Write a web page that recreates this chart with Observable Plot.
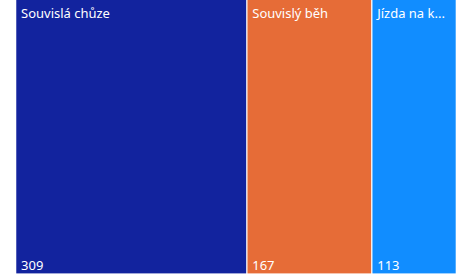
<!DOCTYPE html>
<html>
<head>
<meta charset="utf-8">
<script src="https://cdn.jsdelivr.net/npm/d3@7"></script>
<script src="https://cdn.jsdelivr.net/npm/@observablehq/plot@0.6"></script>
<style>
  html, body { margin: 0; padding: 0; background: #fff; overflow: hidden; }
  #chart svg { display: block; }
</style>
</head>
<body>
<div id="chart"></div>
<script>
const categories = ["Souvislá chůze", "Souvislý běh", "Jízda na k..."];
const values = [309, 167, 113];
const colors = ["#12239E", "#E66C37", "#118DFF"];

const data = categories.map((name, i) => ({name, value: values[i], order: i}));

const font = "'Segoe UI', 'Noto Sans', sans-serif";

const chart = Plot.plot({
  width: 458,
  height: 277,
  marginLeft: 16.3,
  marginRight: 0,
  marginTop: 0,
  marginBottom: 3,
  x: {axis: null},
  y: {axis: null, domain: [0, 1]},
  color: {domain: categories, range: colors},
  style: {fontFamily: font, background: "#fff"},
  marks: [
    Plot.rectX(data, Plot.stackX({x: "value", y1: 0, y2: 1, fill: "name", order: "order", insetRight: 1.3})),
    Plot.text(data, Plot.stackX1({x: "value", text: "name", order: "order", frameAnchor: "top", textAnchor: "start", lineAnchor: "middle", dx: 4.3, dy: 13, fill: "white", fontSize: 13})),
    Plot.text(data, Plot.stackX1({x: "value", text: d => String(d.value), order: "order", frameAnchor: "bottom", textAnchor: "start", lineAnchor: "middle", dx: 4.3, dy: -8.2, fill: "white", fontSize: 13}))
  ]
});
document.getElementById("chart").appendChild(chart);
</script>
</body>
</html>
